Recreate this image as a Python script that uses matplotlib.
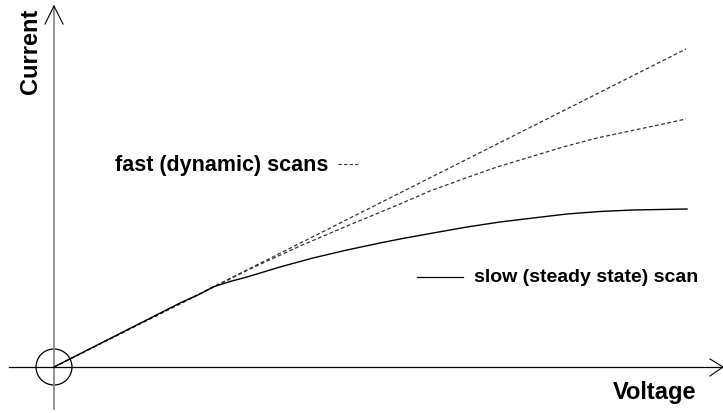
import matplotlib
matplotlib.use('Agg')
import matplotlib.pyplot as plt
from matplotlib.patches import Circle

plt.rcParams['font.family'] = ['Liberation Sans', 'DejaVu Sans']

# values (arbitrary units, origin at axes crossing)
v_fast1 = [0, 632]
i_fast1 = [0, 318]

v_fast2 = [0, 146, 196, 246, 293, 346, 376, 409, 443, 476, 509, 543, 576, 609, 632]
i_fast2 = [0, 73, 98, 121, 141, 163, 176, 188, 200, 210, 220, 229, 236, 243, 248]

v_slow = [0, 126, 146, 159, 176, 193, 226, 259, 293, 326, 346, 379, 413, 446, 479, 513, 546, 579, 633]
i_slow = [0, 64, 73, 80, 85.5, 90, 100, 109, 117, 124, 128, 134, 140, 145, 149, 153, 155.5, 157, 158]

fig = plt.figure(figsize=(7.23, 4.14), dpi=100)
ax = fig.add_axes([0, 0, 1, 1])
ax.set_xlim(-54, 669)
ax.set_ylim(-46, 368)
ax.axis('off')

# axes with open arrow heads
ax.plot([0, 0], [-42, 361], color='#808080', lw=1.2)
ax.plot([-45, 669], [0, 0], color='black', lw=0.9)
ax.plot([-9, 0, 9], [343, 361, 343], color='black', lw=0.8)
ax.plot([656, 669, 656], [8, 0, -9], color='black', lw=0.8)
ax.add_patch(Circle((0, 0), 18, fill=False, color='black', lw=0.9))

dash = (0, (3, 2))
ax.plot(v_fast1, i_fast1, color='#333333', lw=0.9, linestyle=dash)
ax.plot(v_fast2, i_fast2, color='#333333', lw=0.9, linestyle=dash)
ax.plot(v_slow, i_slow, color='black', lw=1.0)

ax.text(-23, 317, 'Current', rotation=90, fontsize=17, fontweight='bold',
        ha='center', va='center')
ax.text(601, -25, 'Voltage', fontsize=17, fontweight='bold',
        ha='center', va='center')

ax.text(61, 203, 'fast (dynamic) scans', fontsize=15.5, fontweight='bold',
        ha='left', va='center')
ax.plot([284, 306], [203, 203], color='#333333', lw=0.8, linestyle=dash)

ax.plot([363, 409], [90, 90], color='black', lw=0.9)
ax.text(420, 90, 'slow (steady state) scan', fontsize=14, fontweight='bold',
        ha='left', va='center')

fig.savefig('out.png', dpi=100)
